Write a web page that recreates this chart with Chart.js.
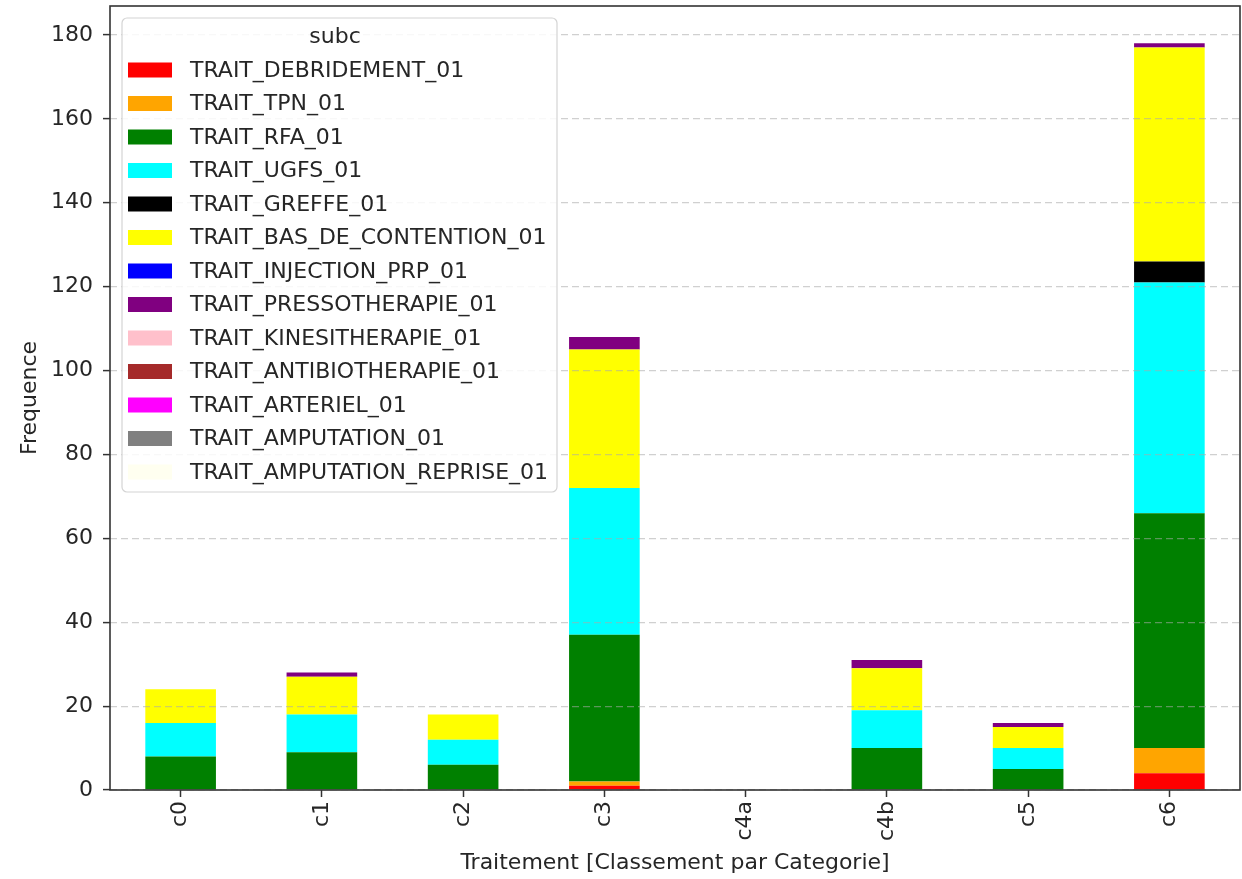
<!DOCTYPE html>
<html>
<head>
<meta charset="utf-8">
<script src="https://cdn.jsdelivr.net/npm/chart.js@4/dist/chart.umd.min.js"></script>
<style>
  html, body { margin: 0; padding: 0; background: #ffffff; }
  #wrap { width: 1242px; height: 879px; position: relative; }
</style>
</head>
<body>
<div id="wrap"><canvas id="chartTraitement"></canvas></div>
<script>
var categories = ["c0", "c1", "c2", "c3", "c4a", "c4b", "c5", "c6"];
var yTicks = [0, 20, 40, 60, 80, 100, 120, 140, 160, 180];

var debridement  = [0, 0, 0, 1, 0, 0, 0, 4];
var tpn          = [0, 0, 0, 1, 0, 0, 0, 6];
var rfa          = [8, 9, 6, 35, 0, 10, 5, 56];
var ugfs         = [8, 9, 6, 35, 0, 9, 5, 55];
var greffe       = [0, 0, 0, 0, 0, 0, 0, 5];
var basContention = [8, 9, 6, 33, 0, 10, 5, 51];
var injectionPrp = [0, 0, 0, 0, 0, 0, 0, 0];
var pressotherapie = [0, 1, 0, 3, 0, 2, 1, 1];
var kinesitherapie = [0, 0, 0, 0, 0, 0, 0, 0];
var antibiotherapie = [0, 0, 0, 0, 0, 0, 0, 0];
var arteriel     = [0, 0, 0, 0, 0, 0, 0, 0];
var amputation   = [0, 0, 0, 0, 0, 0, 0, 0];
var amputationReprise = [0, 0, 0, 0, 0, 0, 0, 0];

var series = [
  ["TRAIT_DEBRIDEMENT_01", debridement, "#ff0000"],
  ["TRAIT_TPN_01", tpn, "#ffa500"],
  ["TRAIT_RFA_01", rfa, "#008000"],
  ["TRAIT_UGFS_01", ugfs, "#00ffff"],
  ["TRAIT_GREFFE_01", greffe, "#000000"],
  ["TRAIT_BAS_DE_CONTENTION_01", basContention, "#ffff00"],
  ["TRAIT_INJECTION_PRP_01", injectionPrp, "#0000ff"],
  ["TRAIT_PRESSOTHERAPIE_01", pressotherapie, "#800080"],
  ["TRAIT_KINESITHERAPIE_01", kinesitherapie, "#ffc0cb"],
  ["TRAIT_ANTIBIOTHERAPIE_01", antibiotherapie, "#a52a2a"],
  ["TRAIT_ARTERIEL_01", arteriel, "#ff00ff"],
  ["TRAIT_AMPUTATION_01", amputation, "#808080"],
  ["TRAIT_AMPUTATION_REPRISE_01", amputationReprise, "#fffff0"]
];

var FONT = "'DejaVu Sans', sans-serif";
var TEXT = "#262626";
var SIZE = 22;

// matplotlib-like frame around the axes (drawn after the grid)
var framePlugin = {
  id: "frame",
  afterDraw: function (chart) {
    var a = chart.chartArea, ctx = chart.ctx;
    ctx.save();
    ctx.strokeStyle = "#333333";
    ctx.lineWidth = 1.6;
    ctx.strokeRect(a.left, a.top, a.right - a.left, a.bottom - a.top);
    ctx.restore();
  }
};

// legend box drawn inside the plot, upper left
var boxLegend = {
  id: "boxLegend",
  afterDraw: function (chart) {
    var ctx = chart.ctx;
    var x0 = 122, y0 = 18, w = 435, h = 474, r = 5;
    ctx.save();
    ctx.beginPath();
    ctx.moveTo(x0 + r, y0);
    ctx.arcTo(x0 + w, y0, x0 + w, y0 + h, r);
    ctx.arcTo(x0 + w, y0 + h, x0, y0 + h, r);
    ctx.arcTo(x0, y0 + h, x0, y0, r);
    ctx.arcTo(x0, y0, x0 + w, y0, r);
    ctx.closePath();
    ctx.fillStyle = "rgba(255,255,255,0.85)";
    ctx.fill();
    ctx.strokeStyle = "#d4d4d4";
    ctx.lineWidth = 1.2;
    ctx.stroke();

    ctx.fillStyle = TEXT;
    ctx.font = SIZE + "px " + FONT;
    ctx.textAlign = "center";
    ctx.textBaseline = "middle";
    ctx.fillText("subc", 335, 37);

    ctx.textAlign = "left";
    chart.data.datasets.forEach(function (ds, i) {
      var yy = 70 + i * 33.5;
      ctx.fillStyle = ds.backgroundColor;
      ctx.fillRect(128, yy - 7.5, 44, 15);
      ctx.fillStyle = TEXT;
      ctx.fillText(ds.label, 190, yy + 1);
    });
    ctx.restore();
  }
};

var datasets = series.map(function (s) {
  return {
    label: s[0],
    data: s[1],
    backgroundColor: s[2],
    borderWidth: 0,
    barPercentage: 0.5,
    categoryPercentage: 1.0
  };
});

new Chart(document.getElementById("chartTraitement"), {
  type: "bar",
  data: { labels: categories, datasets: datasets },
  plugins: [framePlugin, boxLegend],
  options: {
    responsive: true,
    maintainAspectRatio: false,
    animation: false,
    devicePixelRatio: 1,
    layout: { padding: { top: 6, right: 2, left: 0, bottom: 0 } },
    plugins: { legend: { display: false }, tooltip: { enabled: false } },
    scales: {
      x: {
        stacked: true,
        afterFit: function (scale) {
          scale.height = 89;
          scale.paddingLeft = 0;
          scale.paddingRight = 0;
        },
        grid: {
          offset: false,
          drawOnChartArea: false,
          drawTicks: true,
          tickLength: 7,
          tickColor: "#333333",
          tickWidth: 1.5
        },
        border: { display: false },
        ticks: {
          minRotation: 90,
          maxRotation: 90,
          padding: 4,
          color: TEXT,
          font: { family: FONT, size: SIZE }
        },
        title: {
          display: true,
          text: "Traitement [Classement par Categorie]",
          color: TEXT,
          font: { family: FONT, size: SIZE },
          padding: { top: 3, bottom: 3 }
        }
      },
      y: {
        stacked: true,
        min: 0,
        max: 186.9,
        afterFit: function (scale) {
          scale.width = 110;
          scale.paddingTop = 0;
          scale.paddingBottom = 0;
        },
        afterBuildTicks: function (scale) {
          scale.ticks = yTicks.map(function (v) { return { value: v }; });
        },
        grid: {
          z: 1,
          color: "rgba(170,170,170,0.55)",
          lineWidth: 1.2,
          drawTicks: true,
          tickLength: 7,
          tickColor: "#333333",
          tickWidth: 1.5,
          tickBorderDash: []
        },
        border: { display: false, dash: [7, 4] },
        ticks: {
          padding: 10,
          color: TEXT,
          font: { family: FONT, size: SIZE }
        },
        title: {
          display: true,
          text: "Frequence",
          color: TEXT,
          font: { family: FONT, size: SIZE },
          padding: { top: 17, bottom: 17 }
        }
      }
    }
  }
});
</script>
</body>
</html>
